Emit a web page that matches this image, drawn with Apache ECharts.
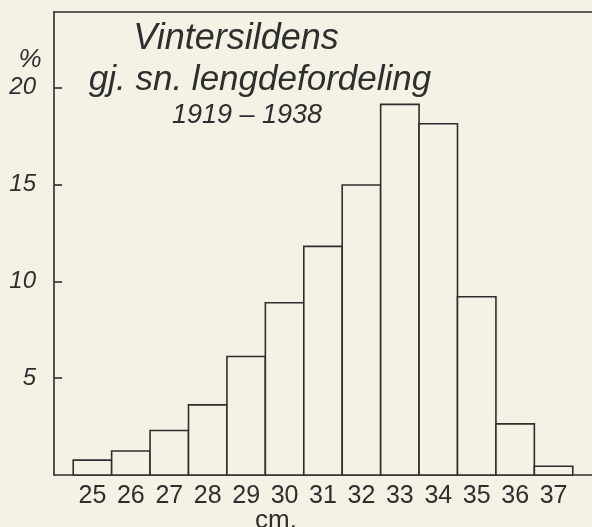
<!DOCTYPE html>
<html>
<head>
<meta charset="utf-8">
<script src="https://cdn.jsdelivr.net/npm/echarts@6/dist/echarts.min.js"></script>
<style>
html,body{margin:0;padding:0;background:#f4f1e5;}
#chart{width:592px;height:527px;}
</style>
</head>
<body>
<div id="chart"></div>
<script>
// Length classes (cm)
const categories = [25, 26, 27, 28, 29, 30, 31, 32, 33, 34, 35, 36, 37];
// Average percentage of winter herring in each length class, 1919-1938
const percentValues = [0.77, 1.24, 2.3, 3.62, 6.12, 8.89, 11.8, 14.97, 19.13, 18.13, 9.2, 2.64, 0.45];
// Y tick labels
const yTickValues = [5, 10, 15, 20];
// Title lines
const titleLines = ['Vintersildens', 'gj. sn. lengdefordeling', '1919 – 1938'];

const ink = '#2e2e2e';
const bg = '#f4f1e5';
const fontFam = '"Liberation Sans", Arial, sans-serif';

const chart = echarts.init(document.getElementById('chart'), null, {renderer: 'canvas'});

const option = {
  backgroundColor: bg,
  animation: false,
  grid: {left: 54, right: 0, top: 12, bottom: 52, containLabel: false},
  xAxis: [
    {
      type: 'value', min: 24, max: 38, interval: 1,
      axisLine: {show: true, onZero: false, lineStyle: {color: ink, width: 1.6}},
      axisTick: {show: false},
      splitLine: {show: false},
      axisLabel: {
        customValues: categories,
        color: ink, fontSize: 25, fontFamily: fontFam, margin: 9
      }
    },
    {
      type: 'value', min: 24, max: 38, position: 'top',
      axisLine: {show: true, onZero: false, lineStyle: {color: ink, width: 1.6}},
      axisTick: {show: false}, axisLabel: {show: false}, splitLine: {show: false}
    }
  ],
  yAxis: {
    type: 'value', min: 0, max: 23.9,
    axisLine: {show: true, onZero: false, lineStyle: {color: ink, width: 1.6}},
    axisTick: {show: true, inside: true, length: 8, customValues: yTickValues, lineStyle: {color: ink, width: 1.6}},
    splitLine: {show: false},
    axisLabel: {
      customValues: yTickValues,
      color: ink, fontSize: 24, fontStyle: 'italic', fontFamily: fontFam, margin: 18
    }
  },
  graphic: [
    {type: 'text', x: 236, y: 39, style: {text: titleLines[0], fill: ink, font: 'italic 36px ' + fontFam, textAlign: 'center', textVerticalAlign: 'middle'}},
    {type: 'text', x: 260, y: 80, style: {text: titleLines[1], fill: ink, font: 'italic 35px ' + fontFam, textAlign: 'center', textVerticalAlign: 'middle'}},
    {type: 'text', x: 247, y: 115, style: {text: titleLines[2], fill: ink, font: 'italic 27px ' + fontFam, textAlign: 'center', textVerticalAlign: 'middle'}},
    {type: 'text', x: 30, y: 60, style: {text: '%', fill: ink, font: 'italic 26px ' + fontFam, textAlign: 'center', textVerticalAlign: 'middle'}},
    {type: 'text', x: 276, y: 521, style: {text: 'cm.', fill: ink, font: '26px ' + fontFam, textAlign: 'center', textVerticalAlign: 'middle'}}
  ],
  series: [{
    type: 'custom',
    xAxisIndex: 0,
    yAxisIndex: 0,
    data: categories.map((c, i) => [c, percentValues[i]]),
    renderItem: function (params, api) {
      const x = api.value(0);
      const v = api.value(1);
      const p0 = api.coord([x - 0.5, v]);
      const p1 = api.coord([x + 0.5, 0]);
      return {
        type: 'rect',
        shape: {x: p0[0], y: p0[1], width: p1[0] - p0[0], height: p1[1] - p0[1]},
        style: {fill: bg, stroke: ink, lineWidth: 1.6}
      };
    }
  }]
};
chart.setOption(option);
</script>
</body>
</html>
